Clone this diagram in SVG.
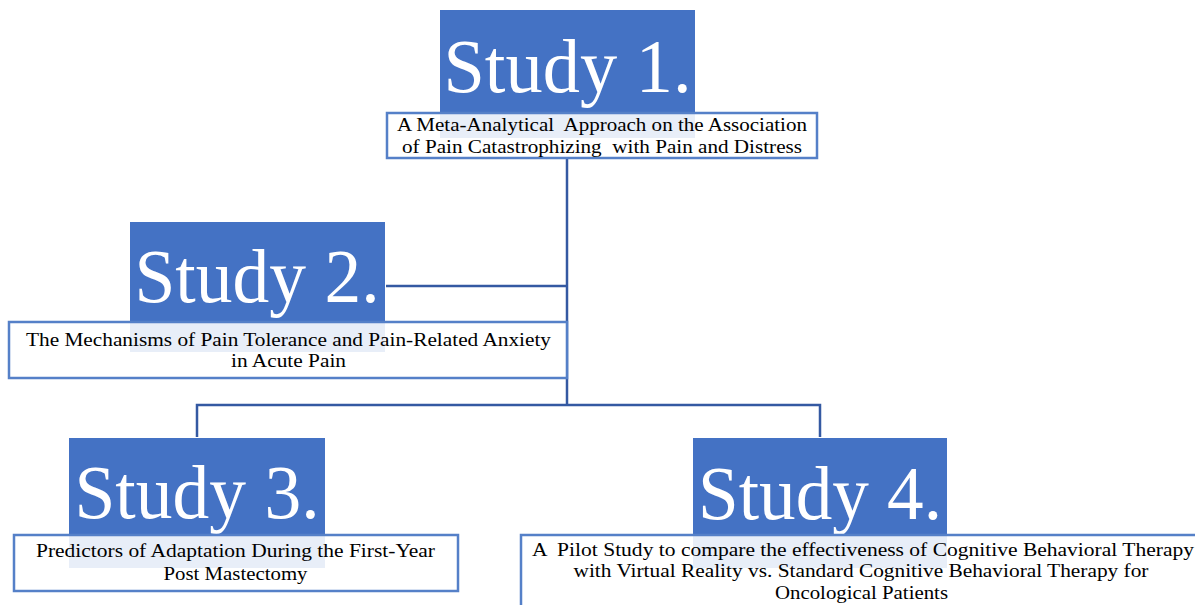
<svg xmlns="http://www.w3.org/2000/svg" width="1195" height="605" viewBox="0 0 1195 605">
<style>
.blue{fill:#4472C4}
.big{font-family:"Liberation Serif","Times New Roman",serif;font-size:77px;fill:#fff;text-anchor:middle}
.box{fill:#fff;fill-opacity:0.88;stroke:#5580C8;stroke-width:2.5}
.lbl{font-family:"Liberation Serif","Times New Roman",serif;font-size:19px;fill:#000;text-anchor:middle;white-space:pre}
.con{stroke:#3459A2;stroke-width:2.5;fill:none}
</style>
<rect width="1195" height="605" fill="#fff"/>
<g id="connectors">
<path class="con" d="M567 158 V405"/>
<path class="con" d="M386 286 H567"/>
<path class="con" d="M197 437 V405 H820 V437"/>
</g>
<g id="study1">
<rect class="blue" x="440" y="10" width="255" height="128"/>
<text class="big" x="567.5" y="92" textLength="248" lengthAdjust="spacingAndGlyphs">Study 1.</text>
<rect class="box" x="387" y="113" width="430" height="45"/>
<text class="lbl" x="602" y="131" textLength="410" lengthAdjust="spacingAndGlyphs" xml:space="preserve">A Meta-Analytical  Approach on the Association</text>
<text class="lbl" x="602" y="153" textLength="400" lengthAdjust="spacingAndGlyphs" xml:space="preserve">of Pain Catastrophizing  with Pain and Distress</text>
</g>
<g id="study2">
<rect class="blue" x="130" y="222" width="255" height="130"/>
<text class="big" x="257" y="302" textLength="245" lengthAdjust="spacingAndGlyphs">Study 2.</text>
<rect class="box" x="9" y="322" width="558" height="56"/>
<text class="lbl" x="288.5" y="346" textLength="525" lengthAdjust="spacingAndGlyphs">The Mechanisms of Pain Tolerance and Pain-Related Anxiety</text>
<text class="lbl" x="288.5" y="367" textLength="115" lengthAdjust="spacingAndGlyphs">in Acute Pain</text>
</g>
<g id="study3">
<rect class="blue" x="69" y="438" width="256" height="130"/>
<text class="big" x="197" y="518" textLength="245" lengthAdjust="spacingAndGlyphs">Study 3.</text>
<rect class="box" x="14" y="535" width="444" height="56"/>
<text class="lbl" x="235.5" y="557" textLength="399" lengthAdjust="spacingAndGlyphs">Predictors of Adaptation During the First-Year</text>
<text class="lbl" x="235.5" y="580" textLength="144" lengthAdjust="spacingAndGlyphs">Post Mastectomy</text>
</g>
<g id="study4">
<rect class="blue" x="693" y="438" width="254" height="130"/>
<text class="big" x="820" y="519" textLength="244" lengthAdjust="spacingAndGlyphs">Study 4.</text>
<rect class="box" x="521" y="535" width="700" height="100"/>
<text class="lbl" x="863" y="556" textLength="662" lengthAdjust="spacingAndGlyphs" xml:space="preserve">A  Pilot Study to compare the effectiveness of Cognitive Behavioral Therapy</text>
<text class="lbl" x="861" y="577" textLength="575" lengthAdjust="spacingAndGlyphs">with Virtual Reality vs. Standard Cognitive Behavioral Therapy for</text>
<text class="lbl" x="861.5" y="599" textLength="173" lengthAdjust="spacingAndGlyphs">Oncological Patients</text>
</g>
</svg>
